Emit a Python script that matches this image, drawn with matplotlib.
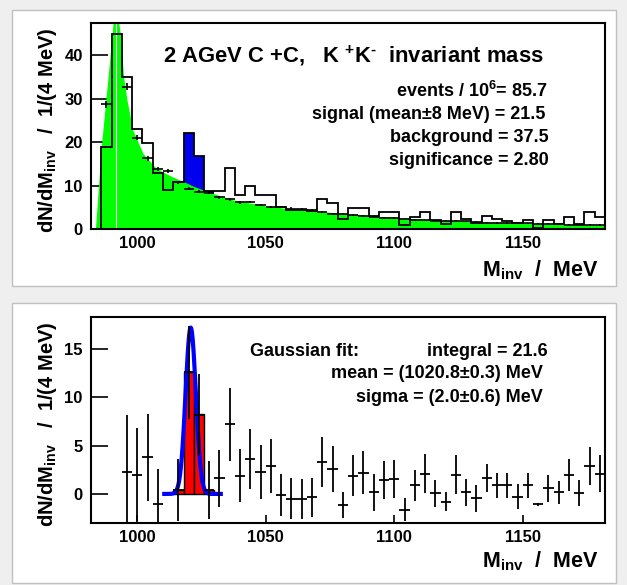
import numpy as np
import matplotlib
matplotlib.use('Agg')
import matplotlib.pyplot as plt
from matplotlib.patches import Rectangle

plt.rcParams['font.family'] = ['Liberation Sans', 'DejaVu Sans']
plt.rcParams['font.weight'] = 'bold'
plt.rcParams['mathtext.fontset'] = 'custom'
plt.rcParams['mathtext.rm'] = 'Liberation Sans:bold'
plt.rcParams['mathtext.it'] = 'Liberation Sans:bold'
plt.rcParams['mathtext.bf'] = 'Liberation Sans:bold'
plt.rcParams['mathtext.sf'] = 'Liberation Sans:bold'

# ---------------- data ----------------
bin_lo = 982
bin_width = 4
n_bins = 50

# K+K- invariant mass spectrum (same-event), counts per 4 MeV bin
data_counts = [0, 19.0, 44.8, 34.9, 23.0, 19.9, 12.9, 9.1, 11.0, 22.1,
               16.9, 8.9, 8.9, 14.2, 7.9, 10.0, 7.9, 7.9, 5.2, 4.4,
               4.5, 4.3, 6.9, 6.0, 2.5, 5.0, 5.0, 3.0, 4.1, 4.1,
               1.0, 2.8, 4.1, 2.1, 1.2, 4.1, 2.3, 1.6, 3.0, 2.3,
               1.9, 1.6, 2.1, 0.3, 2.1, 1.2, 2.8, 1.2, 4.1, 2.8]

nan = np.nan
# background (mixed events) per bin
bg_values = [nan, 28.7, nan, 32.8, 21.1, 16.3, 13.9, 13.4, 10.8, 9.4,
             8.7, 8.4, 7.4, 6.9, 6.2, 6.3, 5.6, 5.1, 5.1, 4.8,
             4.7, 4.4, 4.0, 3.6, 3.6, 3.3, 3.1, 2.9, 2.7, 2.6,
             2.5, 2.2, 2.1, 2.0, 2.0, 2.0, 1.9, 1.8, 1.6, 1.5,
             1.5, 1.5, 1.4, 1.3, 1.3, 1.2, 1.1, 1.1, 1.1, 1.0]
bg_errors = [nan, 0.8, nan, 0.8, 0.6, 0.5, 0.45, 0.45, 0.4, 0.4,
             0.35, 0.35, 0.3, 0.3, 0.3, 0.3, 0.25, 0.25, 0.25, 0.25,
             0.25, 0.2, 0.2, 0.2, 0.2, 0.2, 0.2, 0.2, 0.2, 0.2,
             0.2, 0.15, 0.15, 0.15, 0.15, 0.15, 0.15, 0.15, 0.15, 0.15,
             0.15, 0.15, 0.15, 0.15, 0.15, 0.15, 0.15, 0.15, 0.15, 0.15]

# smooth (fine-binned) background shape: mass, value
green_mass = [983.7, 986.0, 988.3, 990.6, 991.5, 992.8, 993.4, 994.7, 996.0,
              998.3, 1002.2, 1006.8, 1010.0, 1014.0, 1018.0, 1022.0, 1026.0,
              1030.0, 1036.0, 1040.0, 1046.0, 1050.0, 1056.0, 1060.0, 1070.0,
              1080.0, 1090.0, 1100.0, 1110.0, 1120.0, 1130.0, 1140.0, 1150.0,
              1160.0, 1170.0, 1182.0]
green_value = [0.0, 19.0, 33.0, 47.4, 55.0, 47.4, 45.0, 35.0, 29.7,
               22.8, 17.5, 14.4, 13.2, 12.0, 11.0, 9.9, 9.0,
               8.2, 7.0, 6.4, 5.9, 5.4, 5.0, 4.7, 4.2,
               3.7, 3.2, 2.8, 2.4, 2.1, 1.9, 1.6, 1.4,
               1.3, 1.1, 0.9]
white_line_mass = 991.9

# signal window bins (mean +- 8 MeV)
signal_bin_lo = [1014, 1018, 1022, 1026]
signal_bin_counts = [0.4, 12.6, 8.3, 0.4]

# background-subtracted spectrum
sig_values = [nan, nan, nan, 2.3, 2.0, 3.8, -1.0, nan, 0.4, 12.6,
              8.2, 0.4, 1.6, 7.2, 1.9, 3.6, 2.3, 2.9, -0.1, -0.5,
              -0.55, -0.35, 3.3, 2.6, -1.1, 1.9, 2.2, 0.15, 1.45, 1.55,
              -1.65, 0.9, 2.1, 0.05, -0.8, 2.0, 0.15, -0.45, 1.6, 0.9,
              0.9, -0.3, 0.9, -1.05, 0.6, 0.15, 2.0, 0.05, 2.9, 2.1]
sig_errors = [nan, nan, nan, 5.9, 4.8, 4.5, 3.6, nan, 3.2, 4.8,
              4.2, 3.0, 3.0, 3.8, 2.75, 3.1, 2.8, 2.8, 2.2, 2.1,
              2.05, 2.05, 2.6, 2.4, 1.35, 2.1, 2.2, 1.9, 2.0, 1.95,
              1.2, 1.6, 2.05, 1.4, 1.0, 2.0, 1.4, 1.4, 1.45, 1.3,
              1.3, 1.3, 1.3, 0.15, 1.4, 1.15, 1.65, 1.35, 2.0, 1.9]

# Gaussian fit parameters
fit_integral = 21.6
fit_mean = 1020.8
fit_sigma = 2.0
fit_range = (1010.5, 1032.5)

# ---------------- figure ----------------
W, H = 627, 585
fig = plt.figure(figsize=(W / 100, H / 100), dpi=100)
fig.patch.set_facecolor('#efefef')


def fx(x):
    return x / W


def fy(y):
    return 1 - y / H


for (x0, y0, x1, y1) in [(12, 10, 616, 286), (12, 303, 616, 583)]:
    fig.patches.append(Rectangle((fx(x0), fy(y1)), fx(x1) - fx(x0), fy(y0) - fy(y1),
                                 transform=fig.transFigure, facecolor='white',
                                 edgecolor='#c0c0c0', lw=1.0, zorder=-5))

edges = bin_lo + bin_width * np.arange(n_bins + 1)
centers = edges[:-1] + bin_width / 2

ax1 = fig.add_axes([fx(91), fy(229.5), fx(605) - fx(91), fy(23) - fy(229.5)])
ax2 = fig.add_axes([fx(91), fy(522.7), fx(605) - fx(91), fy(317.3) - fy(522.7)])
for ax in (ax1, ax2):
    ax.set_zorder(1)
    ax.set_facecolor('white')

# top panel
ax1.bar(signal_bin_lo, [data_counts[int((b - bin_lo) / bin_width)] for b in signal_bin_lo],
        width=bin_width, align='edge', color='#0000ee', lw=0, zorder=1)
ax1.fill_between(green_mass, green_value, 0, color='#00ff00', lw=0, zorder=2)
ax1.plot([white_line_mass, white_line_mass], [0, 60], color='white', lw=0.8, zorder=2.5)
ax1.stairs(data_counts, edges, color='black', lw=1.3, zorder=3)
ax1.errorbar(centers, bg_values, xerr=bin_width / 2, yerr=bg_errors, fmt='none',
             ecolor='black', elinewidth=1.2, zorder=4)
ax1.set_xlim(982, 1182)
ax1.set_ylim(0, 47.4)
ax1.set_yticks([0, 10, 20, 30, 40])

# bottom panel
ax2.bar(signal_bin_lo, signal_bin_counts, width=bin_width, align='edge',
        color='#ff0000', edgecolor='black', lw=1.0, zorder=1)
xg = np.linspace(fit_range[0], fit_range[1], 300)
amp = fit_integral * bin_width / (np.sqrt(2 * np.pi) * fit_sigma)
ax2.plot(xg, amp * np.exp(-0.5 * ((xg - fit_mean) / fit_sigma) ** 2),
         color='#0000ff', lw=3, zorder=3)
ax2.errorbar(centers, sig_values, xerr=bin_width / 2, yerr=sig_errors, fmt='none',
             ecolor='black', elinewidth=1.3, zorder=4)
ax2.set_xlim(982, 1182)
ax2.set_ylim(-2.98, 18.3)
ax2.set_yticks([0, 5, 10, 15])

for ax in (ax1, ax2):
    ax.set_xticks([1000, 1050, 1100, 1150])
    ax.tick_params(axis='x', direction='in', length=6, width=1.2, labelsize=12, pad=5)
    ax.tick_params(axis='y', direction='in', length=12, width=1.2, labelsize=12, pad=6)
    for s in ax.spines.values():
        s.set_linewidth(1.5)
    for lab in ax.get_xticklabels() + ax.get_yticklabels():
        lab.set_fontweight('bold')

# texts top
fig.text(fx(163), fy(62), '2 AGeV C +C,   K $^{+}$K$^{\\text{-}}$  invariant mass', fontsize=15.8,
         fontweight='bold', ha='left', va='baseline')
stats = [('events / 10$^6$= 85.7', 548, 97.3),
         ('signal (mean\u00b18 MeV) = 21.5', 545, 119.5),
         ('background = 37.5', 549, 141.7),
         ('significance = 2.80', 549, 165)]
for t, x, y in stats:
    fig.text(fx(x), fy(y), t, fontsize=13, fontweight='bold', ha='right', va='baseline')

# texts bottom
fig.text(fx(250), fy(355.7), 'Gaussian fit:', fontsize=13, fontweight='bold',
         ha='left', va='baseline')
fits = [('integral = 21.6', 548, 355.7),
        ('mean = (1020.8\u00b10.3) MeV', 543, 378.3),
        ('sigma = (2.0\u00b10.6) MeV', 543, 401.7)]
for t, x, y in fits:
    fig.text(fx(x), fy(y), t, fontsize=13, fontweight='bold', ha='right', va='baseline')

# axis labels
for ytop, ybase in [(27, 276), (321, 567)]:
    fig.text(fx(48), fy(ytop), 'dN/dM$_{inv}$   /  1/(4 MeV)', rotation=90,
             fontsize=14.5, fontweight='bold', ha='center', va='top')
    fig.text(fx(598), fy(ybase), 'M$_{inv}$  /  MeV', fontsize=15.5, fontweight='bold',
             ha='right', va='baseline')

fig.savefig('out.png', dpi=100, facecolor=fig.get_facecolor())
